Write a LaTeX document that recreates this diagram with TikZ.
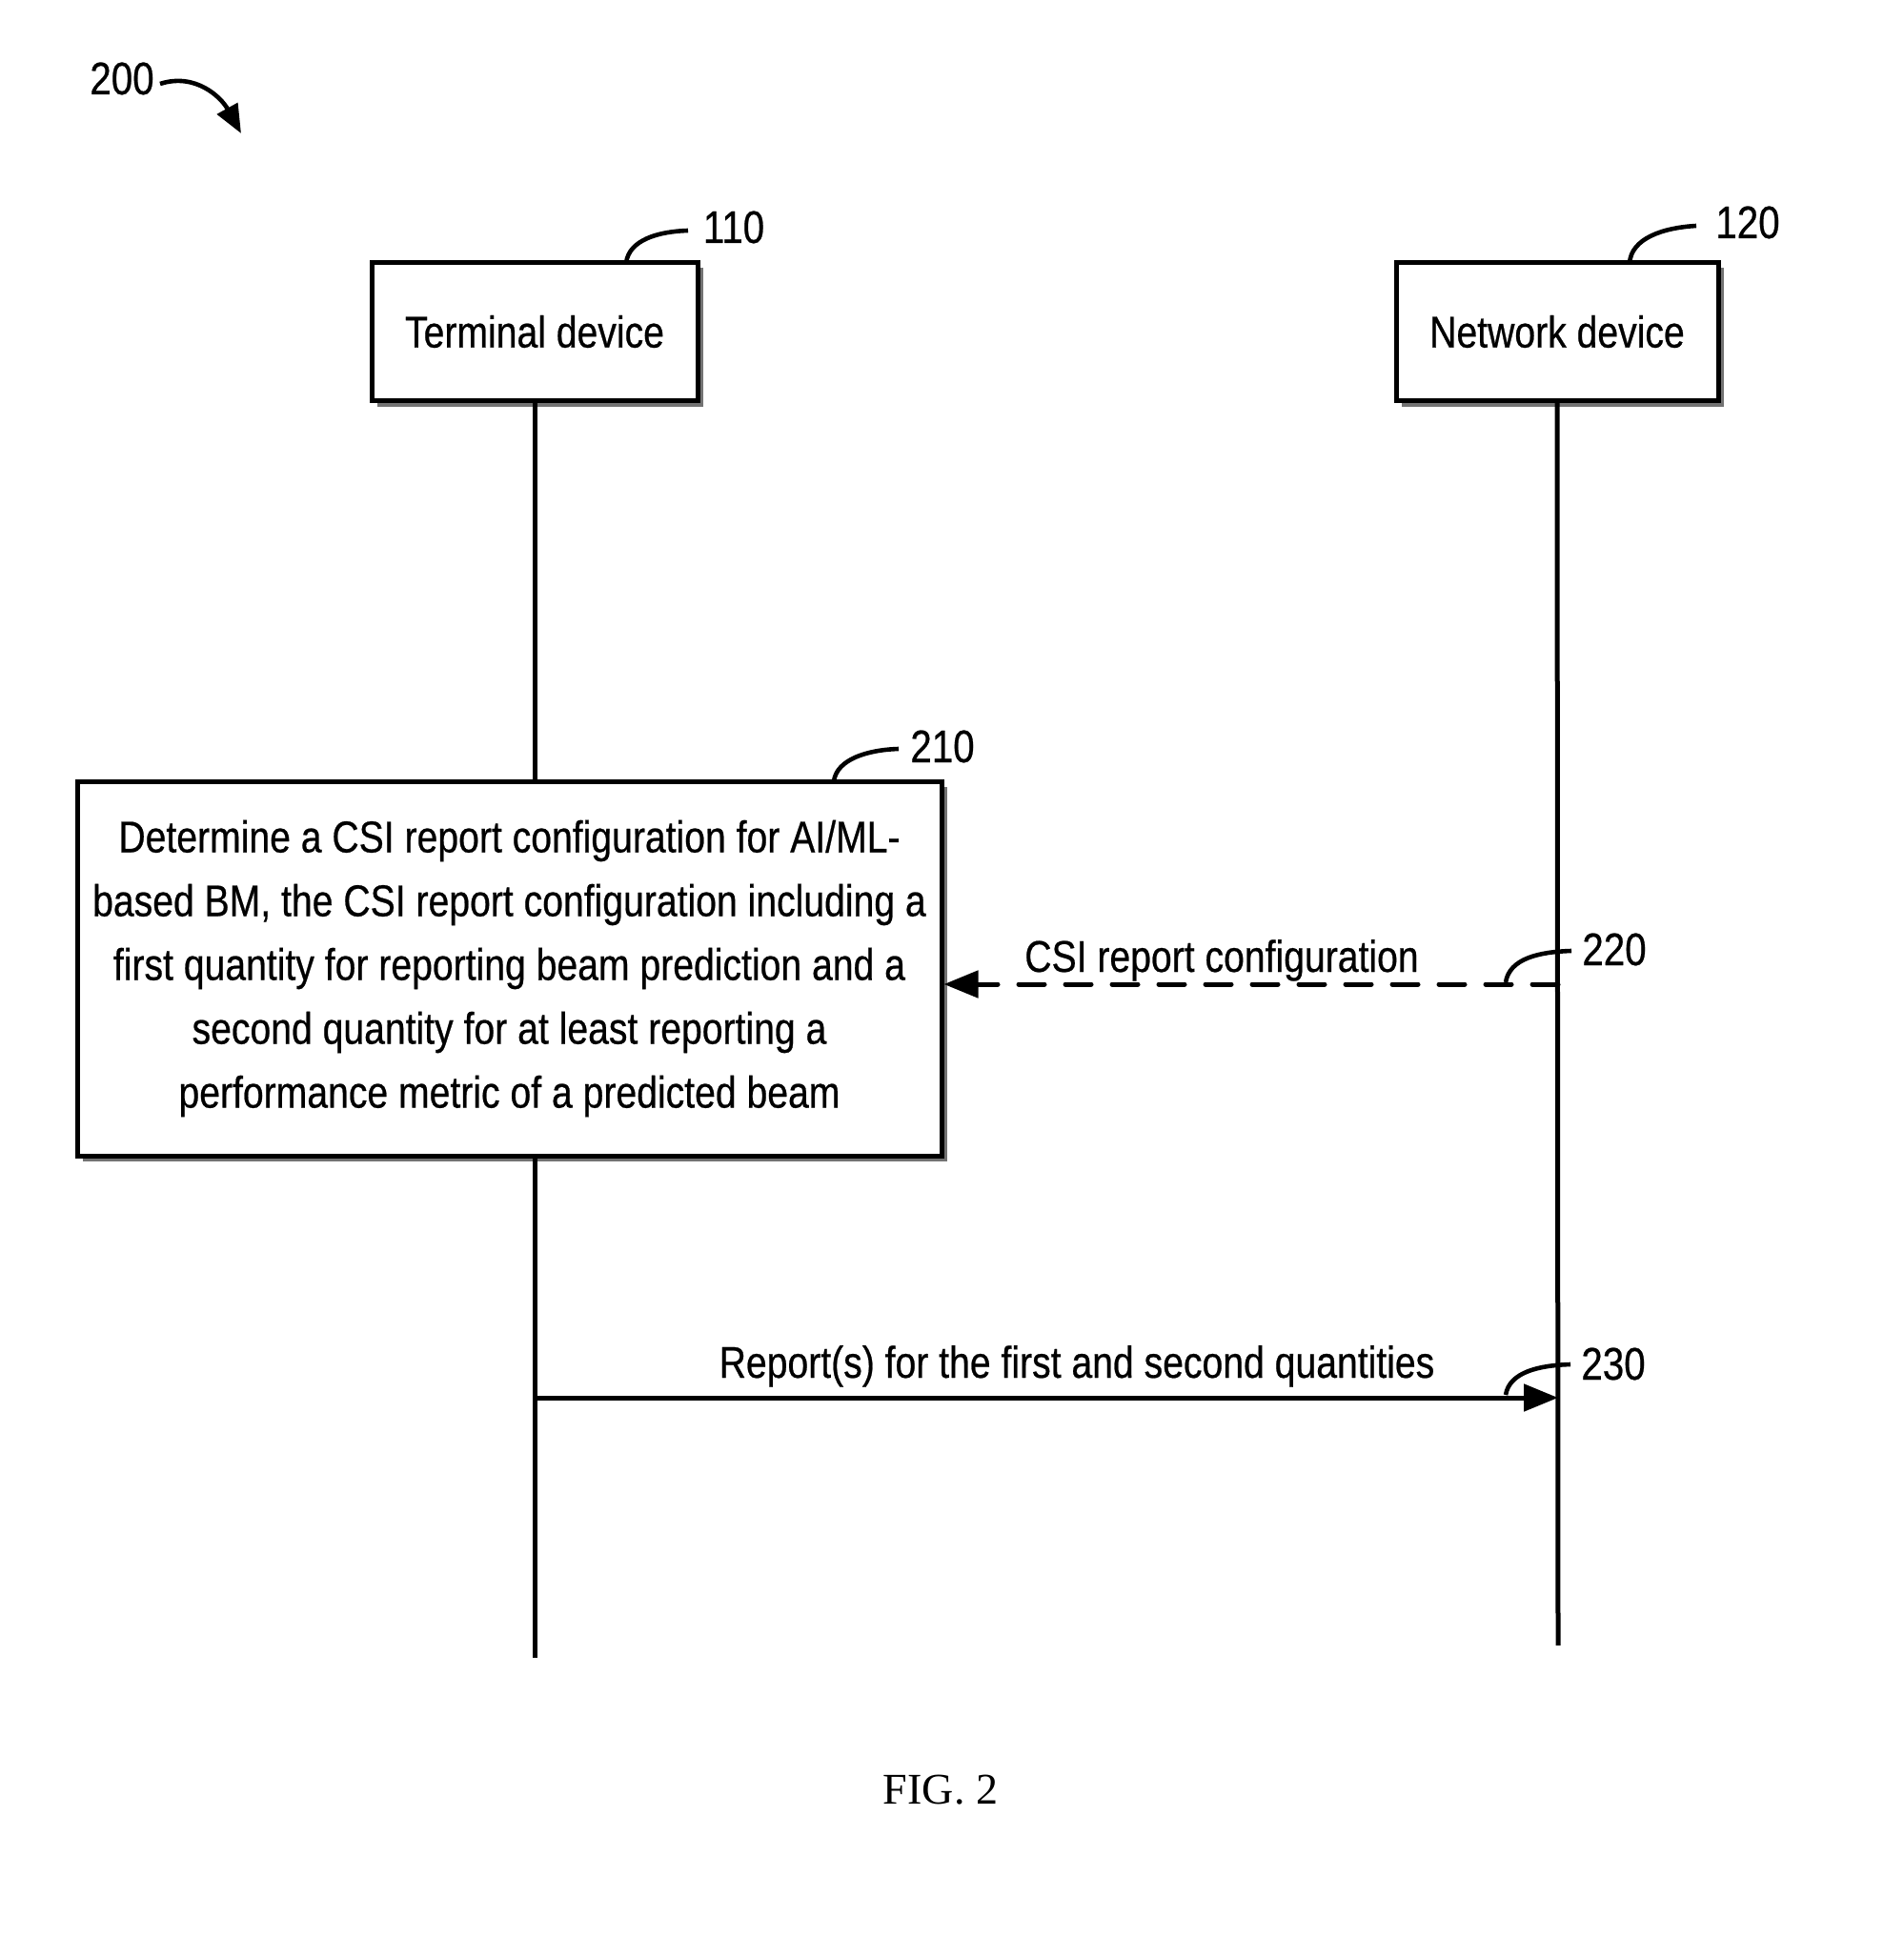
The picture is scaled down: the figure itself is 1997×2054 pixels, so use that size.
\documentclass[tikz,border=0pt]{standalone}
\usepackage{fontspec}
\setmainfont{Liberation Sans}[FakeStretch=0.84,FakeBold=0.5]
\newfontfamily\figfont{Liberation Serif}
\usetikzlibrary{arrows.meta,shadows}
\begin{document}
\begin{tikzpicture}[x=0.5pt,y=-0.5pt,
  devbox/.style={draw,line width=2.5pt,fill=white,inner sep=0pt,
    font=\fontsize{23.3}{33.5}\selectfont,
    drop shadow={shadow xshift=3pt,shadow yshift=-3pt,fill=black!55,opacity=1}},
  lifeline/.style={line width=2.5pt},
  leader/.style={line width=2.3pt},
  refnum/.style={font=\fontsize{24}{28}\selectfont,anchor=base,inner sep=0pt},
  msg/.style={font=\fontsize{23.3}{26}\selectfont,anchor=base,inner sep=0pt},
  tip/.style={-{Triangle[length=18pt,width=14pt]}}]
\useasboundingbox (0,0) rectangle (1997,2054);
\fill[white] (0,0) rectangle (1997,2054);

% 200
\node[refnum] (l200) at (128,99) {200};
\coordinate (a200s) at (168,88);
\coordinate (a200e) at (253,140);
\draw[leader,-{Triangle[length=15pt,width=12pt]}] (a200s) .. controls (205,76) and (232,102) .. (a200e);

% devices
\node[devbox,minimum width=171pt,minimum height=72.5pt] (t) at (561,348) {Terminal device};
\node[devbox,minimum width=169pt,minimum height=72.5pt] (n) at (1634,348) {Network device};

\node[refnum] (l110) at (770,255) {110};
\coordinate (c110a) at (657,276);
\coordinate (c110b) at (722,242);
\draw[leader] (c110a) .. controls (660,252) and (690,243) .. (c110b);
\node[refnum] (l120) at (1834,250) {120};
\coordinate (c120a) at (1710,276);
\coordinate (c120b) at (1780,237);
\draw[leader] (c120a) .. controls (1712,250) and (1745,239) .. (c120b);

% step 210 box
\coordinate (tend) at (561,1740);
\coordinate (nend) at (1635,1727);
\node[devbox,minimum width=453.5pt,minimum height=196.5pt,align=center] (b) at (534.5,1016.5)
  {Determine a CSI report configuration for AI/ML-\\
   based BM, the CSI report configuration including a\\
   first quantity for reporting beam prediction and a\\
   second quantity for at least reporting a\\
   performance metric of a predicted beam};

\draw[lifeline] (t.south) -- (t.south |- b.north);
\draw[lifeline] (t.south |- b.south) -- (tend);
\draw[lifeline] (n.south) -- (nend);

\node[refnum] (l210) at (989,800) {210};
\coordinate (c210a) at (875,820);
\coordinate (c210b) at (943,786);
\draw[leader] (c210a) .. controls (878,797) and (910,787) .. (c210b);

% 220
\coordinate (m220) at (1635,1033);
\draw[lifeline,line cap=round,dash pattern=on 13.5pt off 11pt,tip] (m220) -- (m220 -| b.east);
\node[msg] (t220) at (1282,1020) {CSI report configuration};
\node[refnum] (l220) at (1694,1013) {220};
\coordinate (c220a) at (1580,1031);
\coordinate (c220b) at (1649,998);
\draw[leader] (c220a) .. controls (1584,1006) and (1615,999) .. (c220b);

% 230
\coordinate (m230s) at (561,1467);
\coordinate (m230e) at (1635,1467);
\draw[lifeline,tip] (m230s) -- (m230e);
\node[msg] (t230) at (1130,1446) {Report(s) for the first and second quantities};
\node[refnum] (l230) at (1693,1448) {230};
\coordinate (c230a) at (1580,1464);
\coordinate (c230b) at (1648,1432);
\draw[leader] (c230a) .. controls (1584,1440) and (1615,1433) .. (c230b);

\node[font=\figfont\fontsize{23}{26}\selectfont,anchor=base,inner sep=0pt] (fig) at (987,1893) {FIG. 2};
\end{tikzpicture}
\end{document}
